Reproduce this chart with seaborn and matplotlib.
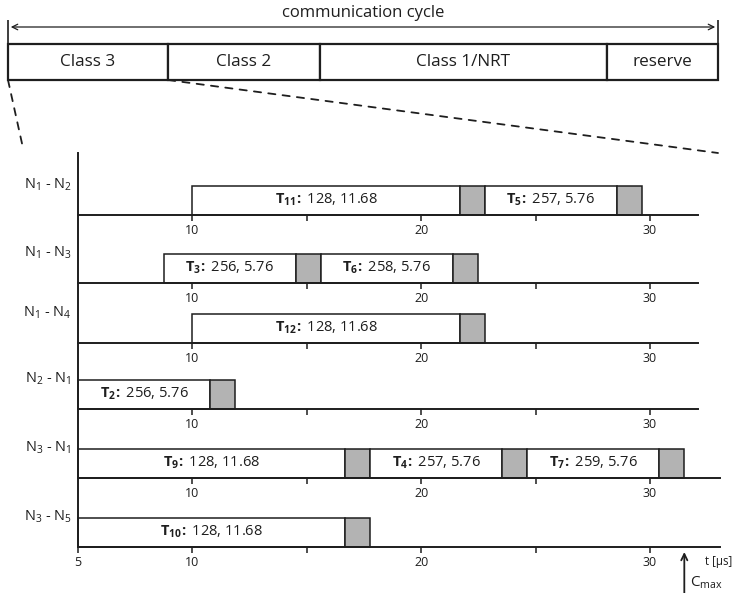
import matplotlib.pyplot as plt
import seaborn as sns
from matplotlib.patches import ConnectionPatch

# communication cycle split (relative length of each part)
cycle_parts = ["Class 3", "Class 2", "Class 1/NRT", "reserve"]
cycle_share = [160, 152, 287, 111]

# class 3 schedule per link
links = ["N$_1$ - N$_2$", "N$_1$ - N$_3$", "N$_1$ - N$_4$",
         "N$_2$ - N$_1$", "N$_3$ - N$_1$", "N$_3$ - N$_5$"]
task_link = [0, 0, 1, 1, 2, 3, 4, 4, 4, 5]
task_id = ["11", "5", "3", "6", "12", "2", "9", "4", "7", "10"]
task_size = [128, 257, 256, 258, 128, 256, 128, 257, 259, 128]
task_dur = [11.68, 5.76, 5.76, 5.76, 11.68, 5.76, 11.68, 5.76, 5.76, 11.68]
task_start = [10, 22.78, 8.75, 15.61, 10, 5, 5, 17.78, 24.64, 5]
gap = 1.1      # grey slot after each frame
c_max = 31.5

sns.set_style("white")
plt.rcParams['font.family'] = ['Open Sans', 'DejaVu Sans']
plt.rcParams['mathtext.fontset'] = 'custom'
plt.rcParams['mathtext.rm'] = 'Open Sans'
plt.rcParams['mathtext.it'] = 'Open Sans:italic'
plt.rcParams['mathtext.bf'] = 'Open Sans:bold'

ink = '#1e1e1e'
W, H = 735, 593
fig = plt.figure(figsize=(W / 100, H / 100), dpi=100)

# ---- top: communication cycle
tax = fig.add_axes([8 / W, 1 - 80 / H, 710 / W, 36 / H])
total = sum(cycle_share)
tax.set_xlim(0, total)
tax.set_ylim(0, 1)
tax.axis('off')
lefts = [sum(cycle_share[:i]) for i in range(len(cycle_share))]
tax.barh(0, cycle_share, left=lefts, height=1, align='edge', color='white',
         edgecolor=ink, linewidth=1.6, clip_on=False)
for name, l, w in zip(cycle_parts, lefts, cycle_share):
    tax.text(l + w / 2, 0.5, name, ha='center', va='center', fontsize=12.3, color=ink)
tax.vlines([0, total], 1, 1 + 24 / 36, color=ink, lw=1.2, clip_on=False)
tax.annotate("", xy=(0, 53 / 36), xytext=(total, 53 / 36), annotation_clip=False,
             arrowprops=dict(arrowstyle='<->', lw=0.9, color=ink, shrinkA=2, shrinkB=2))
tax.text(total / 2, 67 / 36, "communication cycle", ha='center', va='center',
         fontsize=12, color=ink)

# ---- schedule rows
baselines = [215, 283, 343, 409, 478, 547]
tops = [153] + baselines[:-1]
axes = []
for i, lab in enumerate(links):
    hpx = baselines[i] - tops[i]
    ax = fig.add_axes([78 / W, 1 - baselines[i] / H, 642 / W, hpx / H])
    ax.patch.set_visible(False)
    ax.set_xlim(5, 33.06)
    ax.set_ylim(0, hpx)
    sns.despine(ax=ax)
    for s in ['left', 'bottom']:
        ax.spines[s].set_color(ink)
        ax.spines[s].set_linewidth(1.4)
    ax.spines['bottom'].set_bounds(5, 32.1 if i < 4 else 33.06)
    ax.set_xticks([5, 10, 20, 30] if i == len(links) - 1 else [10, 20, 30])
    ax.set_xticks([15, 25], minor=True)
    ax.set_yticks([])
    ax.tick_params(axis='x', which='both', direction='out', length=4, width=1.1,
                   color=ink, labelsize=9, labelcolor=ink, pad=2.5, bottom=True)
    ax.annotate(lab, xy=(0, 30), xycoords=('axes fraction', 'data'), xytext=(-4.5, 0),
                textcoords='offset points', ha='right', va='center', fontsize=10.5,
                color=ink, annotation_clip=False)
    axes.append(ax)

for r, tid, size, dur, start in zip(task_link, task_id, task_size, task_dur, task_start):
    ax = axes[r]
    ax.barh(0, dur, left=start, height=29, align='edge', color='white',
            edgecolor=ink, linewidth=1.1, clip_on=False)
    ax.barh(0, gap, left=start + dur, height=29, align='edge', color='#b3b3b3',
            edgecolor=ink, linewidth=1.1, clip_on=False)
    ax.text(start + dur / 2, 11, rf"$\mathbf{{T_{{{tid}}}\!{{:}}}}$ {size}, {dur}",
            ha='center', va='baseline', fontsize=10.5, color=ink)

last = axes[-1]
last.annotate("", xy=(c_max, -5), xytext=(c_max, -46), annotation_clip=False,
              arrowprops=dict(arrowstyle='->,head_length=0.45,head_width=0.22',
                              lw=1.3, color=ink, shrinkA=0, shrinkB=0))
last.text(32.4, -15, "t [µs]", ha='left', va='center', fontsize=8.3, color=ink)
last.text(31.75, -36, r"C$_{\mathrm{max}}$", ha='left', va='center', fontsize=11, color=ink)

# zoom lines from Class 3 down to the schedule
for xa, xb, yb in [(0, 23, 148), (cycle_share[0], 718, 153)]:
    con = ConnectionPatch(xyA=(xa, 0), coordsA=tax.transData,
                          xyB=(xb / W, 1 - yb / H), coordsB=fig.transFigure,
                          linestyle=(0, (4, 4)), lw=1.3, color=ink)
    fig.add_artist(con)

fig.savefig('out.png', dpi=100)
